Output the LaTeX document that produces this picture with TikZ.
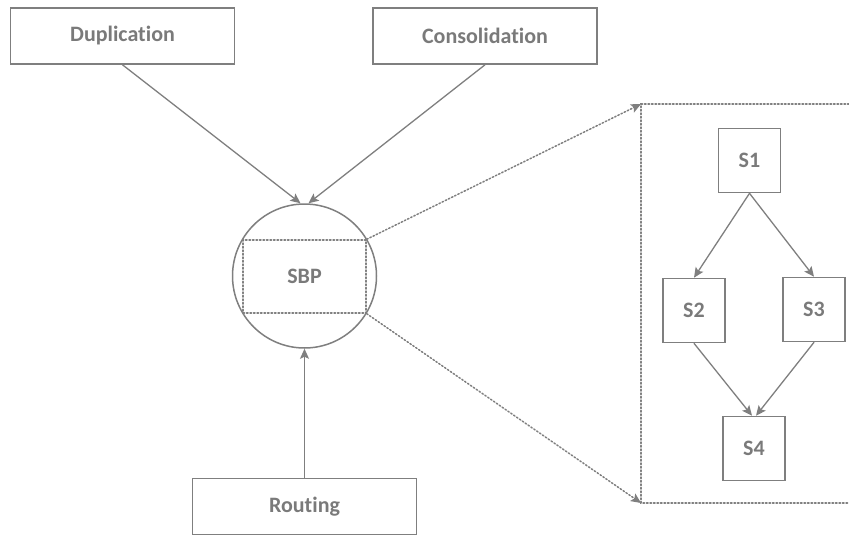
\documentclass[tikz,border=0pt]{standalone}
\usepackage{fontspec}
\setmainfont[Ligatures=NoCommon]{Carlito}
\usetikzlibrary{arrows.meta}
\definecolor{linegray}{HTML}{7F7F7F}
\definecolor{textgray}{HTML}{7A7A7A}

\begin{document}
\begin{tikzpicture}[x=1pt, y=-1pt, >={Stealth[length=10pt, width=9pt, inset=2pt]}, line cap=round,
  stagebox/.style={rectangle, draw=linegray, line width=1.6pt, text=textgray, font=\fontsize{22}{26}\selectfont\bfseries, minimum width=224pt, minimum height=56pt, inner sep=0pt},
  subbox/.style={rectangle, draw=linegray, line width=1.6pt, text=textgray, font=\fontsize{22}{26}\selectfont\bfseries, minimum width=62pt, minimum height=64pt, inner sep=0pt},
  link/.style={->, draw=linegray, line width=1.3pt},
  zoomlink/.style={->, draw=linegray, line width=1.5pt, dotted}]
\useasboundingbox (0,0) rectangle (849,536);
% input stages
\node[stagebox] (dup) at (122.5,36) {Duplication};
\node[stagebox] (cons) at (485,36) {Consolidation};
\node[stagebox] (route) at (304.5,506.5) {Routing};
% the SBP circle and its window
\node[circle, draw=linegray, line width=1.5pt, minimum size=144pt, inner sep=0pt] (hub) at (304.5,276) {};
\node[rectangle, draw=linegray, line width=1.5pt, dotted, text=textgray, font=\fontsize{22}{26}\selectfont\bfseries, minimum width=123pt, minimum height=73pt, inner sep=0pt] (win) at (304.5,276.5) {SBP};
\draw[link] (dup.south) -- ([xshift=-4pt]hub.north);
\draw[link] (cons.south) -- ([xshift=4pt]hub.north);
\draw[link] (route.north) -- (hub.south);
% zoomed view
\coordinate (brtop) at (641,104);
\coordinate (brbot) at (641,503);
\draw[draw=linegray, line width=1.5pt, dotted] (849,104) -- (brtop) -- (brbot) -- (849,503);
\draw[zoomlink] (win.north east) -- (brtop);
\draw[zoomlink] (win.south east) -- (brbot);
\node[subbox] (s1) at (749.5,160.5) {S1};
\node[subbox] (s2) at (694,310.5) {S2};
\node[subbox] (s3) at (814,309.5) {S3};
\node[subbox] (s4) at (754,448.5) {S4};
\draw[link] (s1.south) -- (s2.north);
\draw[link] (s1.south) -- (s3.north);
\draw[link] (s2.south) -- ([xshift=-2pt]s4.north);
\draw[link] (s3.south) -- ([xshift=2pt]s4.north);
\end{tikzpicture}
\end{document}
